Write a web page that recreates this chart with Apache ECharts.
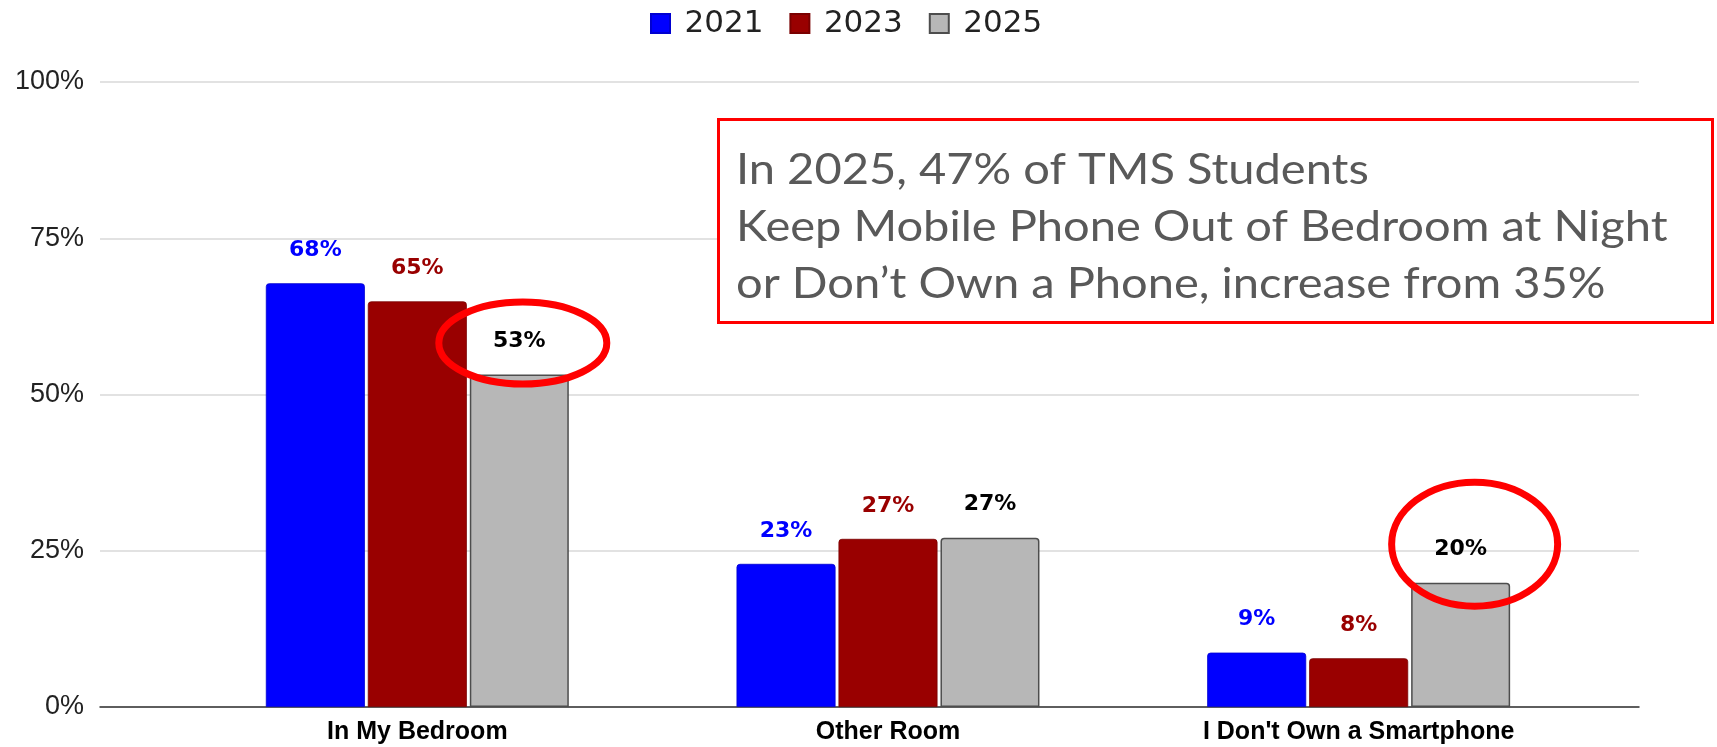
<!DOCTYPE html>
<html>
<head>
<meta charset="utf-8">
<script src="https://cdn.jsdelivr.net/npm/echarts@6/dist/echarts.min.js"></script>
<style>
  html, body { margin: 0; padding: 0; background: #fff; }
  #chart { width: 1717px; height: 747px; }
</style>
</head>
<body>
<div id="chart"></div>
<script>
// data
const categories = ['In My Bedroom', 'Other Room', "I Don't Own a Smartphone"]
const years = ['2021', '2023', '2025']
const values2021 = [67.8, 22.9, 8.7]
const values2023 = [64.9, 26.9, 7.8]
const values2025 = [53.2, 27.1, 19.9]
const yTicks = [0, 25, 50, 75, 100]
const noteLines = [
  'In 2025, 47% of TMS Students',
  'Keep Mobile Phone Out of Bedroom at Night',
  'or Don’t Own a Phone, increase from 35%'
]

const barColors = ['#0000ff', '#990000', '#b7b7b7']
const borderColors = ['#0000d0', '#7a0000', '#4d4d4d']
const labelColors = ['#0000ff', '#990000', '#000000']

const chart = echarts.init(document.getElementById('chart'))

function makeSeries (name, data, i) {
  return {
    name: name,
    type: 'bar',
    xAxisIndex: 1,
    yAxisIndex: 1,
    data: data,
    barWidth: 99,
    barGap: '3%',
    itemStyle: {
      color: barColors[i],
      borderColor: borderColors[i],
      borderWidth: i === 2 ? 1.5 : 0.8,
      borderRadius: [3, 3, 0, 0]
    },
    label: {
      show: true,
      position: 'top',
      distance: 22,
      fontFamily: 'DejaVu Sans',
      fontWeight: 'bold',
      fontSize: 22,
      color: labelColors[i],
      formatter: p => Math.round(p.value) + '%'
    }
  }
}

chart.setOption({
  animation: false,
  backgroundColor: '#fff',
  legend: {
    data: years,
    left: 645,
    top: 3,
    icon: 'path://M0 0H10V10H0Z',
    itemWidth: 38,
    itemHeight: 19,
    itemGap: 26,
    textStyle: {
      fontFamily: 'DejaVu Sans',
      fontSize: 31,
      color: '#222'
    }
  },
  grid: [
    // back grid: gridlines and y labels across the full width
    { left: 100, right: 78, top: 82, bottom: 40 },
    // bar grid
    { left: 182, right: 123, top: 82, bottom: 40 }
  ],
  xAxis: [
    {
      gridIndex: 0,
      type: 'value',
      min: 0,
      max: 1,
      axisLine: { show: true, lineStyle: { color: '#333', width: 1.5 } },
      axisTick: { show: false },
      axisLabel: { show: false },
      splitLine: { show: false }
    },
    {
      gridIndex: 1,
      type: 'category',
      data: categories,
      axisLine: { show: false },
      axisTick: { show: false },
      axisLabel: {
        margin: 13,
        fontFamily: 'Liberation Sans',
        fontWeight: 'bold',
        fontSize: 25,
        color: '#000'
      }
    }
  ],
  yAxis: [
    {
      gridIndex: 0,
      type: 'value',
      min: yTicks[0],
      max: yTicks[yTicks.length - 1],
      interval: 25,
      axisLine: { show: false },
      axisTick: { show: false },
      axisLabel: {
        margin: 16,
        fontFamily: 'Liberation Sans',
        fontSize: 27,
        color: '#222',
        formatter: '{value}%'
      },
      splitLine: { lineStyle: { color: '#d9d9d9', width: 1.5 } }
    },
    {
      gridIndex: 1,
      type: 'value',
      min: 0,
      max: 100,
      show: false
    }
  ],
  series: [
    makeSeries(years[0], values2021, 0),
    makeSeries(years[1], values2023, 1),
    makeSeries(years[2], values2025, 2)
  ]
})

// find where a bar was drawn, so the circles sit on its label
function barBox (seriesIndex, dataIndex) {
  const l = chart.getModel().getSeriesByIndex(seriesIndex).getData().getItemLayout(dataIndex)
  return { cx: l.x + l.width / 2, top: Math.min(l.y, l.y + l.height) }
}
const b1 = barBox(2, 0)
const b3 = barBox(2, 2)

chart.setOption({
  graphic: [
    {
      type: 'rect',
      z: 100,
      shape: { x: 718.5, y: 119.5, width: 994, height: 203 },
      style: { fill: '#fff', stroke: '#ff0000', lineWidth: 3 }
    },
    {
      // the note text is set wide, so stretch it a little
      type: 'text',
      z: 101,
      x: 736,
      y: 141.5,
      scaleX: 1.12,
      style: {
        text: noteLines.join('\n'),
        font: '42px Lato',
        lineHeight: 57,
        verticalAlign: 'top',
        fill: '#595959'
      }
    },
    {
      type: 'ellipse',
      z: 100,
      shape: { cx: b1.cx + 3.5, cy: b1.top - 31.5, rx: 84, ry: 41 },
      style: { fill: 'none', stroke: '#ff0000', lineWidth: 7 }
    },
    {
      type: 'ellipse',
      z: 100,
      shape: { cx: b3.cx + 14, cy: b3.top - 38.5, rx: 83, ry: 62 },
      style: { fill: 'none', stroke: '#ff0000', lineWidth: 7 }
    }
  ]
})
</script>
</body>
</html>
